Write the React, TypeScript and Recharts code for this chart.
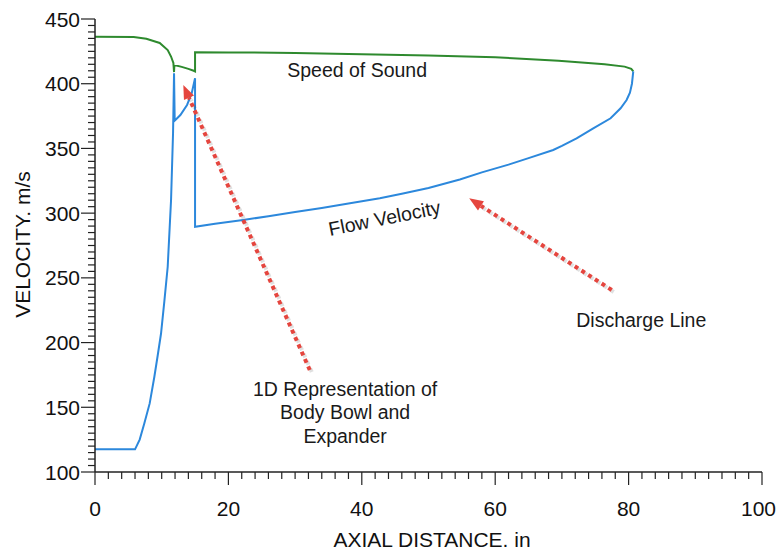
import React from 'react';
import { LineChart, Line, XAxis, YAxis, ReferenceLine, ReferenceDot } from 'recharts';

// Speed of sound (green)
const soundX = [0, 5.8, 7.7, 9.7, 10.9, 11.4, 11.75, 11.85, 11.9, 13, 14, 14.8, 15.0, 15.0, 20, 30, 40, 50, 60, 69.5, 76.4, 79.4, 80.4, 80.7];
const soundV = [436.3, 436, 434.8, 431.5, 426, 421, 416, 409, 414.5, 413, 411.5, 410, 409.5, 424.3, 424.2, 423.8, 422.8, 421.8, 420.5, 417.8, 415, 413.2, 411.5, 409.5];

// Flow velocity (blue)
const flowX = [0, 6.0, 6.7, 7.4, 8.2, 8.9, 9.4, 9.9, 10.4, 10.9, 11.4, 11.7, 11.85, 11.95, 12.8, 13.8, 14.5, 15.0, 15.0, 18, 22.2, 26, 30, 34, 38, 42.7, 46, 50, 54.7, 58, 62, 65, 68.7, 70, 72.2, 74.7, 77.3, 78.8, 79.7, 80.2, 80.5, 80.7];
const flowV = [117.5, 117.5, 125, 137.6, 153, 173.6, 190, 207, 232, 258.6, 310, 361.7, 408, 371.4, 375.8, 383.6, 392.6, 404.2, 289.5, 291.8, 294.7, 297.6, 300.8, 304, 307.5, 311.5, 315, 319.5, 326, 331.5, 337.5, 342.5, 348.8, 352, 357.8, 365.5, 373.3, 381, 387.4, 393, 400, 409.5];

const xTicks = Array.from({ length: 51 }, (_, i) => i * 2);
const yTicks = Array.from({ length: 71 }, (_, i) => 100 + i * 5);

const soundData = soundX.map((x, i) => ({ x, v: soundV[i] }));
const flowData = flowX.map((x, i) => ({ x, v: flowV[i] }));

const FONT = '"Liberation Sans", Arial, Helvetica, sans-serif';
const RED = '#e5453e';
const CHART_W = 778;

const XTick = (props: any) => {
  const { x, y, payload } = props;
  const v = payload.value;
  const major = v % 20 === 0;
  const label = String(v);
  const halfW = label.length * 21 * 0.556 / 2;
  const overflow = x + halfW > CHART_W - 2;
  return (
    <g>
      <line x1={x} y1={y} x2={x} y2={y + (major ? 13 : 7)} stroke="#222" strokeWidth={1.2} />
      {major && (
        <text
          x={overflow ? CHART_W - 2 : x}
          y={y + 44}
          textAnchor={overflow ? 'end' : 'middle'}
          fontSize={21}
          fontFamily={FONT}
          fill="#111"
        >
          {label}
        </text>
      )}
    </g>
  );
};

const YTick = (props: any) => {
  const { x, y, payload } = props;
  const v = payload.value;
  const major = v % 50 === 0;
  return (
    <g>
      <line x1={x} y1={y} x2={x - (major ? 14 : 7)} y2={y} stroke="#222" strokeWidth={1.2} />
      {major && (
        <text x={x - 15} y={y + 7.5} textAnchor="end" fontSize={21} fontFamily={FONT} fill="#111">
          {v}
        </text>
      )}
    </g>
  );
};

const Arrow = (props: any) => {
  const { x1, y1, x2, y2 } = props;
  const dx = x2 - x1;
  const dy = y2 - y1;
  const len = Math.sqrt(dx * dx + dy * dy);
  const ux = dx / len;
  const uy = dy / len;
  const L = 14;
  const W = 11;
  const bx = x2 - ux * L;
  const by = y2 - uy * L;
  const px = -uy;
  const py = ux;
  const pts = `${x2},${y2} ${bx + (px * W) / 2},${by + (py * W) / 2} ${bx - (px * W) / 2},${by - (py * W) / 2}`;
  return (
    <g>
      <line x1={x1 + 2} y1={y1 + 2} x2={bx + 2} y2={by + 2} stroke="rgba(0,0,0,0.12)" strokeWidth={4} strokeDasharray="4 4" />
      <line x1={x1} y1={y1} x2={bx} y2={by} stroke={RED} strokeWidth={4} strokeDasharray="4 4" />
      <polygon points={pts} fill={RED} />
    </g>
  );
};

const textShape = (lines: string[], rotate = 0) => (props: any) => {
  const { cx, cy } = props;
  return (
    <text
      x={cx}
      y={cy}
      textAnchor="middle"
      fontSize={19.5}
      fontFamily={FONT}
      fill="#1a1a1a"
      transform={rotate ? `rotate(${rotate} ${cx} ${cy})` : undefined}
    >
      {lines.map((l, i) => (
        <tspan key={i} x={cx} dy={i === 0 ? 0 : 23.5}>
          {l}
        </tspan>
      ))}
    </text>
  );
};

const YLabel = (props: any) => {
  const { viewBox } = props;
  const cx = viewBox.x + 22.5;
  const cy = viewBox.y + viewBox.height / 2 - 1;
  return (
    <text
      x={cx}
      y={cy}
      transform={`rotate(-90 ${cx} ${cy})`}
      textAnchor="middle"
      dominantBaseline="central"
      fontSize={21}
      fontFamily={FONT}
      fill="#111"
    >
      VELOCITY. m/s
    </text>
  );
};

const XLabel = (props: any) => {
  const { viewBox } = props;
  return (
    <text x={viewBox.x + viewBox.width / 2 + 3.5} y={viewBox.y + 75} textAnchor="middle" fontSize={21} fontFamily={FONT} fill="#111">
      AXIAL DISTANCE. in
    </text>
  );
};

export default function App() {
  return (
    <div style={{ position: 'absolute', left: 0, top: 0, width: 778, height: 552, background: '#fff' }}>
      <LineChart width={778} height={552} margin={{ top: 19, right: 16, bottom: 0, left: 0 }}>
        <XAxis
          type="number"
          dataKey="x"
          domain={[0, 100]}
          ticks={xTicks}
          interval={0}
          height={80}
          tickSize={0}
          tickMargin={0}
          tickLine={false}
          axisLine={{ stroke: '#222', strokeWidth: 1.5 }}
          tick={<XTick />}
          label={{ content: <XLabel /> }}
          allowDataOverflow
        />
        <YAxis
          type="number"
          dataKey="v"
          domain={[100, 450]}
          ticks={yTicks}
          interval={0}
          width={95}
          tickSize={0}
          tickMargin={0}
          tickLine={false}
          axisLine={{ stroke: '#222', strokeWidth: 1.5 }}
          tick={<YTick />}
          label={{ content: <YLabel /> }}
          allowDataOverflow
        />
        <Line data={soundData} dataKey="v" type="linear" stroke="#2e8a2e" strokeWidth={2} dot={false} isAnimationActive={false} />
        <Line data={flowData} dataKey="v" type="linear" stroke="#2c88dc" strokeWidth={2} dot={false} isAnimationActive={false} />
        <ReferenceLine segment={[{ x: 32.2, y: 178.8 }, { x: 13.24, y: 399 }]} shape={Arrow} ifOverflow="visible" />
        <ReferenceLine segment={[{ x: 77.47, y: 240.6 }, { x: 56.1, y: 311.5 }]} shape={Arrow} ifOverflow="visible" />
        <ReferenceDot x={39.3} y={405} r={0} ifOverflow="visible" shape={textShape(['Speed of Sound'])} />
        <ReferenceDot x={43.6} y={291} r={0} ifOverflow="visible" shape={textShape(['Flow Velocity'], -11.3)} />
        <ReferenceDot x={81.9} y={212.3} r={0} ifOverflow="visible" shape={textShape(['Discharge Line'])} />
        <ReferenceDot x={37.5} y={159} r={0} ifOverflow="visible" shape={textShape(['1D Representation of', 'Body Bowl and', 'Expander'])} />
      </LineChart>
    </div>
  );
}
